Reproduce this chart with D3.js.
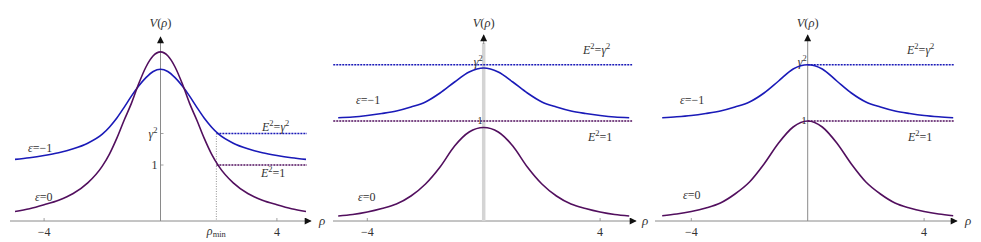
<!DOCTYPE html>
<html>
<head>
<meta charset="utf-8">
<script src="https://cdn.jsdelivr.net/npm/d3@7"></script>
<style>
  html, body { margin: 0; padding: 0; background: #fff; }
</style>
</head>
<body>
<svg id="chart" width="981" height="242" font-family="'Liberation Serif', 'Times New Roman', 'DejaVu Serif', serif"></svg>
<script>
// ---------- data ----------
const rhoA = [-5,-4.5,-4,-3.5,-3,-2.5,-2,-1.75,-1.5,-1.25,-1,-0.75,-0.5,-0.25,0,0.25,0.5,0.75,1,1.25,1.5,1.75,2,2.5,3,3.5,4,4.5,5];
const p1Purple = [0.17,0.22,0.29,0.37,0.49,0.68,0.98,1.20,1.48,1.80,2.10,2.45,2.75,2.95,3.02,2.95,2.75,2.45,2.10,1.80,1.48,1.20,0.98,0.68,0.49,0.37,0.29,0.22,0.17];
const p1Blue   = [1.10,1.13,1.17,1.22,1.29,1.39,1.55,1.68,1.84,2.03,2.23,2.41,2.56,2.67,2.71,2.67,2.56,2.41,2.23,2.03,1.84,1.68,1.55,1.39,1.29,1.22,1.17,1.13,1.10];

const rhoB = [-5,-4.5,-4,-3.5,-3,-2.5,-2,-1.5,-1,-0.5,0,0.5,1,1.5,2,2.5,3,3.5,4,4.5,5];
const p2Blue   = [1.033,1.04,1.055,1.075,1.10,1.14,1.19,1.28,1.39,1.49,1.53,1.49,1.39,1.28,1.19,1.14,1.10,1.075,1.055,1.04,1.033];
const p2Purple = [0.05,0.065,0.09,0.125,0.17,0.25,0.37,0.54,0.75,0.89,0.935,0.89,0.75,0.54,0.37,0.25,0.17,0.125,0.09,0.065,0.05];
const p3Blue   = [1.033,1.042,1.055,1.075,1.10,1.14,1.19,1.28,1.40,1.52,1.5625,1.52,1.40,1.28,1.19,1.14,1.10,1.075,1.055,1.042,1.033];
const p3Purple = [0.053,0.07,0.095,0.13,0.18,0.27,0.39,0.57,0.78,0.94,1.0,0.94,0.78,0.57,0.39,0.27,0.18,0.13,0.095,0.07,0.053];

const gamma2 = 1.5625;   // E^2 = gamma^2 level
const one = 1;           // E^2 = 1 level
const rhoMin = 1.92;
const xTicks = [-4, 4];

// ---------- layout ----------
const BLUE = "#1a1ab8", PURPLE = "#520f5e", AXIS = "#8a8a8a", TXT = "#333";
const svg = d3.select("#chart");
svg.append("rect").attr("width", 981).attr("height", 242).attr("fill", "#fff");
const defs = svg.append("defs");
defs.append("marker").attr("id", "arr").attr("viewBox", "0 0 10 10")
  .attr("refX", 9).attr("refY", 5).attr("markerWidth", 9).attr("markerHeight", 7)
  .attr("markerUnits", "userSpaceOnUse").attr("orient", "auto")
  .append("path").attr("d", "M0,0 L10,5 L0,10 Z").attr("fill", "#111");

const panels = [
  { cx: 160.5, x0: 10, x1: 311, yTop: 37, pxPerV: 56, rho: rhoA, blue: p1Blue, purple: p1Purple,
    thickY: false, dashFrom: rhoMin, dashTo: 5.03, rhoLabelX: 322, yLabels: "left",
    lab: { eg: [262, 131], e1: [261, 177], em1: [28, 152], e0: [35, 201] } },
  { cx: 483.7, x0: 333, x1: 636, yTop: 35, pxPerV: 100, rho: rhoB, blue: p2Blue, purple: p2Purple,
    thickY: true, dashFrom: -5.17, dashTo: 5.1, rhoLabelX: 645, yLabels: "axis",
    lab: { eg: [583, 54], e1: [588, 141], em1: [356, 104], e0: [358, 201] } },
  { cx: 807.7, x0: 655, x1: 957, yTop: 35, pxPerV: 100, rho: rhoB, blue: p3Blue, purple: p3Purple,
    thickY: false, dashFrom: 0, dashTo: 5.03, rhoLabelX: 968, yLabels: "axis",
    lab: { eg: [907, 54], e1: [908, 141], em1: [680, 104], e0: [683, 199] } }
];

const yBase = 221, pxPerRho = 29.1;

function eqLabel(g, x, y, parts) {
  const t = g.append("text").attr("x", x).attr("y", y).attr("font-size", 12).attr("fill", TXT);
  parts.forEach(p => {
    const ts = t.append("tspan").text(p.t);
    if (p.i) ts.attr("font-style", "italic");
    if (p.sup) ts.attr("baseline-shift", "super").attr("font-size", 8.5);
  });
  return t;
}

panels.forEach(P => {
  const g = svg.append("g");
  const x = d3.scaleLinear().domain([0, 1]).range([P.cx, P.cx + pxPerRho]);
  const y = d3.scaleLinear().domain([0, 1]).range([yBase, yBase - P.pxPerV]);

  // x axis
  g.append("line").attr("x1", P.x0).attr("x2", P.x1).attr("y1", yBase).attr("y2", yBase)
    .attr("stroke", AXIS).attr("stroke-width", 1).attr("marker-end", "url(#arr)");
  xTicks.forEach(t => {
    g.append("line").attr("x1", x(t)).attr("x2", x(t)).attr("y1", yBase).attr("y2", yBase - 3)
      .attr("stroke", AXIS).attr("stroke-width", 0.8);
    g.append("text").attr("x", x(t)).attr("y", 236).attr("text-anchor", "middle").attr("fill", TXT)
      .attr("font-size", 12).text(t < 0 ? "\u2212" + Math.abs(t) : String(t));
  });
  g.append("text").attr("x", P.rhoLabelX).attr("y", yBase + 4).attr("text-anchor", "middle").attr("fill", TXT)
    .attr("font-size", 13).attr("font-style", "italic").text("ρ");

  // y axis
  if (P.thickY) {
    g.append("line").attr("x1", P.cx).attr("x2", P.cx).attr("y1", yBase).attr("y2", P.yTop + 8)
      .attr("stroke", "#d4d4d4").attr("stroke-width", 3.5);
    g.append("line").attr("x1", P.cx).attr("x2", P.cx).attr("y1", P.yTop + 9).attr("y2", P.yTop)
      .attr("stroke", AXIS).attr("stroke-width", 1).attr("marker-end", "url(#arr)");
  } else {
    g.append("line").attr("x1", P.cx).attr("x2", P.cx).attr("y1", yBase).attr("y2", P.yTop)
      .attr("stroke", AXIS).attr("stroke-width", 1).attr("marker-end", "url(#arr)");
  }
  const vl = g.append("text").attr("x", P.cx).attr("y", 27).attr("text-anchor", "middle")
    .attr("font-size", 12.5).attr("fill", TXT);
  vl.append("tspan").attr("font-style", "italic").text("V");
  vl.append("tspan").text("(");
  vl.append("tspan").attr("font-style", "italic").text("ρ");
  vl.append("tspan").text(")");

  // dashed levels
  [[gamma2, BLUE], [one, PURPLE]].forEach(([lv, c]) => {
    g.append("line").attr("x1", x(P.dashFrom)).attr("x2", x(P.dashTo))
      .attr("y1", y(lv)).attr("y2", y(lv))
      .attr("stroke", c).attr("stroke-width", 1.4).attr("stroke-dasharray", "2,1");
  });

  if (P.yLabels === "left") {
    g.append("line").attr("x1", x(rhoMin)).attr("x2", x(rhoMin)).attr("y1", y(gamma2)).attr("y2", yBase)
      .attr("stroke", "#888").attr("stroke-width", 0.9).attr("stroke-dasharray", "1,1.5");
    const rm = g.append("text").attr("x", x(rhoMin)).attr("y", 235).attr("text-anchor", "middle")
      .attr("font-size", 12).attr("fill", TXT);
    rm.append("tspan").attr("font-style", "italic").text("ρ");
    rm.append("tspan").attr("font-size", 8.5).attr("dy", 1.5).text("min");
    [gamma2, one].forEach(lv => {
      g.append("line").attr("x1", P.cx).attr("x2", P.cx + 3).attr("y1", y(lv)).attr("y2", y(lv))
        .attr("stroke", AXIS).attr("stroke-width", 0.8);
    });
    eqLabel(g, P.cx - 3, y(gamma2) + 4, [{ t: "γ", i: true }, { t: "2", sup: true }]).attr("text-anchor", "end");
    g.append("text").attr("x", P.cx - 3).attr("y", y(one) + 4).attr("text-anchor", "end")
      .attr("font-size", 12).attr("fill", TXT).text("1");
  } else {
    eqLabel(g, P.cx - 1, y(gamma2) + 1, [{ t: "γ", i: true }, { t: "2", sup: true }]).attr("text-anchor", "end");
    g.append("text").attr("x", P.cx - 1).attr("y", y(one) + 3).attr("text-anchor", "end")
      .attr("font-size", 11).attr("fill", TXT).text("1");
  }

  // curves
  const line = d3.line().x((d, i) => x(P.rho[i])).y(d => y(d)).curve(d3.curveMonotoneX);
  g.append("path").attr("d", line(P.blue)).attr("fill", "none").attr("stroke", BLUE).attr("stroke-width", 1.6);
  g.append("path").attr("d", line(P.purple)).attr("fill", "none").attr("stroke", PURPLE).attr("stroke-width", 1.6);

  // labels
  eqLabel(g, P.lab.eg[0], P.lab.eg[1], [{ t: "E", i: true }, { t: "2", sup: true }, { t: "=" }, { t: "γ", i: true }, { t: "2", sup: true }]);
  eqLabel(g, P.lab.e1[0], P.lab.e1[1], [{ t: "E", i: true }, { t: "2", sup: true }, { t: "=1" }]);
  eqLabel(g, P.lab.em1[0], P.lab.em1[1], [{ t: "ε", i: true }, { t: "=\u22121" }]);
  eqLabel(g, P.lab.e0[0], P.lab.e0[1], [{ t: "ε", i: true }, { t: "=0" }]);
});
</script>
</body>
</html>
